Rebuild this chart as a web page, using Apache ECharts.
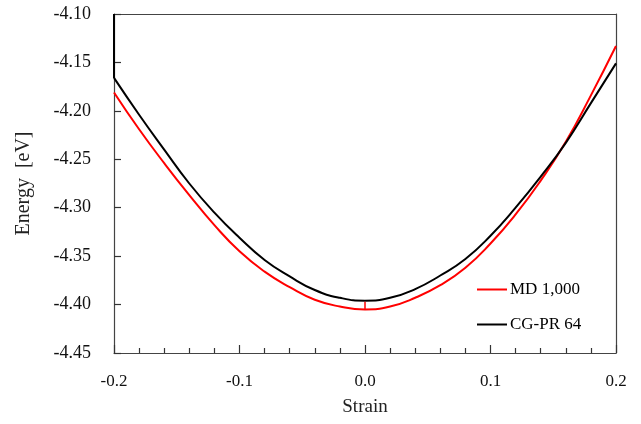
<!DOCTYPE html>
<html>
<head>
<meta charset="utf-8">
<script src="https://cdn.jsdelivr.net/npm/echarts@6/dist/echarts.min.js"></script>
<style>
html, body { margin: 0; padding: 0; background: #fff; }
#main { width: 641px; height: 424px; }
</style>
</head>
<body>
<div id="main"></div>
<script>
// strain values (x)
var strain = [-0.20, -0.18, -0.16, -0.14, -0.12, -0.10, -0.08, -0.06, -0.04, -0.02, 0.00,
	0.02, 0.04, 0.06, 0.08, 0.10, 0.12, 0.14, 0.16, 0.18, 0.20];

// MD 1,000 energies [eV]
var mdEnergy = [-4.181, -4.219, -4.254, -4.287, -4.318, -4.345, -4.366, -4.382, -4.395, -4.402, -4.405,
	-4.402, -4.393, -4.380, -4.362, -4.337, -4.307, -4.272, -4.232, -4.184, -4.133];

// CG-PR 64 energies [eV]
var cgEnergy = [-4.166, -4.204, -4.240, -4.275, -4.305, -4.331, -4.354, -4.371, -4.385, -4.393, -4.396,
	-4.393, -4.384, -4.370, -4.353, -4.329, -4.300, -4.268, -4.233, -4.192, -4.151];

// small vertical mark of MD curve at strain 0
var mdMarkTop = -4.397;
// CG-PR curve rises off the top at strain -0.2
var cgLeftTop = -4.10;

var names = ['MD 1,000', 'CG-PR 64'];

var mdData = [];
for (var i = 0; i < strain.length; i++) {
	mdData.push([strain[i], mdEnergy[i]]);
}
var cgData = [];
for (var j = 0; j < strain.length; j++) {
	cgData.push([strain[j], cgEnergy[j]]);
}

var serif = '"Liberation Serif", "DejaVu Serif", serif';
var axisColor = '#444';

var myChart = echarts.init(document.getElementById('main'));
var option = {
	animation: false,
	backgroundColor: '#fff',
	grid: {
		left: 114,
		right: 25,
		top: 14,
		bottom: 71
	},
	legend: {
		orient: 'vertical',
		left: 472,
		top: 276,
		itemGap: 18,
		icon: 'rect',
		itemWidth: 30,
		itemHeight: 2,
		textStyle: { fontFamily: serif, fontSize: 17, color: '#000', padding: [0, 0, 0, -2] },
		data: names
	},
	xAxis: [{
		type: 'value',
		position: 'bottom',
		min: -0.2,
		max: 0.2,
		interval: 0.1,
		name: 'Strain',
		nameLocation: 'middle',
		nameGap: 45,
		nameTextStyle: { fontFamily: serif, fontSize: 19, color: '#222' },
		axisLine: { show: true, onZero: false, lineStyle: { color: axisColor, width: 1.2 } },
		axisTick: { show: true, inside: true, length: 8, lineStyle: { color: '#333', width: 1.2 } },
		minorTick: { show: true, splitNumber: 5, length: 5, lineStyle: { color: '#333', width: 1.2 } },
		splitLine: { show: false },
		axisLabel: {
			margin: 20,
			fontFamily: serif,
			fontSize: 17,
			color: '#111',
			formatter: function(v) { return v.toFixed(1); }
		}
	}, {
		// top frame line; its zero sits at the left edge so the energy axis can rest on it
		type: 'value',
		position: 'top',
		min: 0,
		max: 0.4,
		axisLine: { show: true, onZero: false, lineStyle: { color: axisColor, width: 1.2 } },
		axisTick: { show: false },
		axisLabel: { show: false },
		splitLine: { show: false }
	}],
	yAxis: [{
		type: 'value',
		position: 'left',
		min: -4.45,
		max: -4.10,
		interval: 0.05,
		name: 'Energy  [eV]',
		nameLocation: 'middle',
		nameGap: 80,
		nameTextStyle: { fontFamily: serif, fontSize: 20, color: '#222' },
		axisLine: { show: true, onZero: true, onZeroAxisIndex: 1, lineStyle: { color: axisColor, width: 1.2 } },
		axisTick: { show: true, inside: true, length: 7, lineStyle: { color: '#333', width: 1.2 } },
		splitLine: { show: false },
		axisLabel: {
			margin: 23,
			fontFamily: serif,
			fontSize: 18,
			color: '#111',
			formatter: function(v) { return v.toFixed(2); }
		}
	}, {
		type: 'value',
		position: 'right',
		min: -4.45,
		max: -4.10,
		axisLine: { show: true, onZero: false, lineStyle: { color: axisColor, width: 1.2 } },
		axisTick: { show: false },
		axisLabel: { show: false },
		splitLine: { show: false }
	}],
	series: [{
		name: names[0],
		type: 'line',
		data: mdData,
		smooth: 0.5,
		showSymbol: false,
		clip: true,
		color: '#ff0000',
		lineStyle: { color: '#ff0000', width: 2 },
		markLine: {
			silent: true,
			symbol: 'none',
			label: { show: false },
			lineStyle: { color: '#ff0000', width: 1.5, type: 'solid' },
			data: [[{ coord: [0, mdEnergy[10]] }, { coord: [0, mdMarkTop] }]]
		}
	}, {
		name: names[1],
		type: 'line',
		data: cgData,
		smooth: 0.5,
		showSymbol: false,
		clip: true,
		color: '#000',
		lineStyle: { color: '#000', width: 2 },
		markLine: {
			silent: true,
			symbol: 'none',
			label: { show: false },
			lineStyle: { color: '#000', width: 2, type: 'solid' },
			data: [[{ coord: [strain[0], cgEnergy[0]] }, { coord: [strain[0], cgLeftTop] }]]
		}
	}]
};
myChart.setOption(option);
</script>
</body>
</html>
